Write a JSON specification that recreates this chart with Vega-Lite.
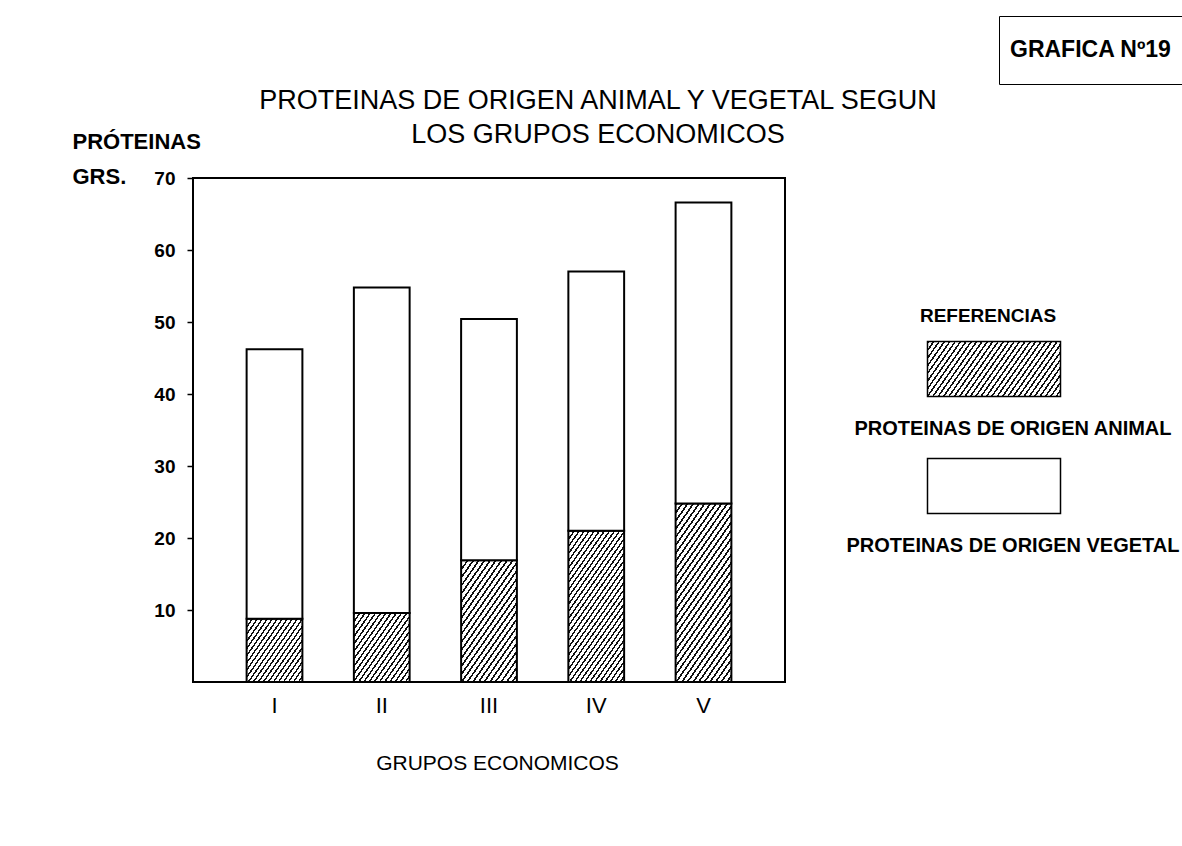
{
"$schema": "https://vega.github.io/schema/vega-lite/v6.json",
"width": 592, "height": 504,
"padding": {"left": 72, "top": 15, "right": 4, "bottom": 10},
"background": "white",
"config": {"font": "Liberation Sans", "view": {"stroke": "black", "strokeWidth": 2}},
"title": {"text": ["PROTEINAS DE ORIGEN ANIMAL Y VEGETAL SEGUN", "LOS GRUPOS ECONOMICOS"], "fontSize": 27, "fontWeight": "normal", "lineHeight": 34, "anchor": "middle", "dx": 109, "dy": 143, "color": "black", "offset": 10},
"data": {"values": [
{"grupo": "I", "tipo": "PROTEINAS DE ORIGEN ANIMAL", "valor": 8.8},
{"grupo": "I", "tipo": "PROTEINAS DE ORIGEN VEGETAL", "valor": 37.4},
{"grupo": "II", "tipo": "PROTEINAS DE ORIGEN ANIMAL", "valor": 9.6},
{"grupo": "II", "tipo": "PROTEINAS DE ORIGEN VEGETAL", "valor": 45.2},
{"grupo": "III", "tipo": "PROTEINAS DE ORIGEN ANIMAL", "valor": 16.9},
{"grupo": "III", "tipo": "PROTEINAS DE ORIGEN VEGETAL", "valor": 33.5},
{"grupo": "IV", "tipo": "PROTEINAS DE ORIGEN ANIMAL", "valor": 21.0},
{"grupo": "IV", "tipo": "PROTEINAS DE ORIGEN VEGETAL", "valor": 36.0},
{"grupo": "V", "tipo": "PROTEINAS DE ORIGEN ANIMAL", "valor": 24.8},
{"grupo": "V", "tipo": "PROTEINAS DE ORIGEN VEGETAL", "valor": 41.8}
]},
"mark": {"type": "bar", "stroke": "black", "strokeWidth": 2},
"encoding": {
"x": {"field": "grupo", "type": "ordinal", "sort": ["I", "II", "III", "IV", "V"], "scale": {"paddingInner": 0.48, "paddingOuter": 0.5},
 "axis": {"domain": false, "ticks": false, "grid": false, "labelAngle": 0, "labelFontSize": 22, "labelFontWeight": "normal", "labelPadding": 13, "labelColor": "black", "title": "GRUPOS ECONOMICOS", "titleFontSize": 21, "titleFontWeight": "normal", "titleX": 304, "titleY": 87, "titleAlign": "center", "titleBaseline": "alphabetic", "titleColor": "black"}},
"y": {"field": "valor", "type": "quantitative", "stack": "zero", "scale": {"domain": [0, 70], "nice": false},
 "axis": {"values": [10, 20, 30, 40, 50, 60, 70], "domain": false, "grid": false, "tickSize": 6, "tickWidth": 1.5, "tickColor": "black", "labelFontSize": 19, "labelFontWeight": "bold", "labelPadding": 12, "labelColor": "black", "title": ["PRÓTEINAS", "GRS."], "titleAngle": 0, "titleAlign": "left", "titleBaseline": "alphabetic", "titleX": -121, "titleY": -30, "titleLineHeight": 35, "titleFontSize": 22, "titleFontWeight": "bold", "titleColor": "black"}},
"order": {"field": "tipo", "type": "nominal", "sort": "ascending"},
"opacity": {"datum": "GRAFICA Nº19", "type": "ordinal", "scale": {"range": [1, 1]},
 "legend": {"orient": "none", "legendX": 806, "legendY": -162, "title": null, "symbolType": "M0,-1V1", "symbolSize": 2116, "symbolStrokeWidth": 0, "labelFontSize": 23, "labelFontWeight": "bold", "labelColor": "black", "labelOffset": -46, "labelLimit": 400, "padding": 11, "strokeColor": "black"}},
"strokeDash": {"field": "tipo", "type": "nominal", "scale": {"domain": ["PROTEINAS DE ORIGEN ANIMAL", "PROTEINAS DE ORIGEN VEGETAL"], "range": [[1, 0], [1, 0]]},
 "legend": {"orient": "none", "legendX": 727, "legendY": 129, "title": "REFERENCIAS", "titleFontSize": 19, "titleFontWeight": "bold", "titleColor": "black", "titleAnchor": "middle", "titlePadding": 12,
  "symbolType": "M-2.2167,-0.9167H2.2167V0.9167H-2.2167Z", "symbolSize": 3600, "symbolStrokeColor": "black", "symbolStrokeWidth": 1.5, "symbolOpacity": 1,
  "labelFontSize": 20, "labelFontWeight": "bold", "labelColor": "black", "labelAlign": "center", "labelOffset": -12, "labelLimit": 500, "labelBaseline": "middle",
  "rowPadding": 16, "padding": 0,
  "encoding": {"labels": {"dy": {"value": 60}}, "title": {"dx": {"value": -83}},
   "symbols": {"stroke": {"value": "black"}, "strokeWidth": {"value": 1.5}, "fill": {"condition": {"test": "datum.value==='PROTEINAS DE ORIGEN ANIMAL'", "value": {"gradient": "linear", "x1": 0, "y1": 0, "x2": 1.19, "y2": 0.3453, "stops": [
{"offset":0,"color":"#111"},{"offset":0.011,"color":"#111"},{"offset":0.011,"color":"#fff"},{"offset":0.03125,"color":"#fff"},
{"offset":0.03125,"color":"#111"},{"offset":0.04225,"color":"#111"},{"offset":0.04225,"color":"#fff"},{"offset":0.0625,"color":"#fff"},
{"offset":0.0625,"color":"#111"},{"offset":0.0735,"color":"#111"},{"offset":0.0735,"color":"#fff"},{"offset":0.09375,"color":"#fff"},
{"offset":0.09375,"color":"#111"},{"offset":0.10475,"color":"#111"},{"offset":0.10475,"color":"#fff"},{"offset":0.125,"color":"#fff"},
{"offset":0.125,"color":"#111"},{"offset":0.136,"color":"#111"},{"offset":0.136,"color":"#fff"},{"offset":0.15625,"color":"#fff"},
{"offset":0.15625,"color":"#111"},{"offset":0.16725,"color":"#111"},{"offset":0.16725,"color":"#fff"},{"offset":0.1875,"color":"#fff"},
{"offset":0.1875,"color":"#111"},{"offset":0.1985,"color":"#111"},{"offset":0.1985,"color":"#fff"},{"offset":0.21875,"color":"#fff"},
{"offset":0.21875,"color":"#111"},{"offset":0.22975,"color":"#111"},{"offset":0.22975,"color":"#fff"},{"offset":0.25,"color":"#fff"},
{"offset":0.25,"color":"#111"},{"offset":0.261,"color":"#111"},{"offset":0.261,"color":"#fff"},{"offset":0.28125,"color":"#fff"},
{"offset":0.28125,"color":"#111"},{"offset":0.29225,"color":"#111"},{"offset":0.29225,"color":"#fff"},{"offset":0.3125,"color":"#fff"},
{"offset":0.3125,"color":"#111"},{"offset":0.3235,"color":"#111"},{"offset":0.3235,"color":"#fff"},{"offset":0.34375,"color":"#fff"},
{"offset":0.34375,"color":"#111"},{"offset":0.35475,"color":"#111"},{"offset":0.35475,"color":"#fff"},{"offset":0.375,"color":"#fff"},
{"offset":0.375,"color":"#111"},{"offset":0.386,"color":"#111"},{"offset":0.386,"color":"#fff"},{"offset":0.40625,"color":"#fff"},
{"offset":0.40625,"color":"#111"},{"offset":0.41725,"color":"#111"},{"offset":0.41725,"color":"#fff"},{"offset":0.4375,"color":"#fff"},
{"offset":0.4375,"color":"#111"},{"offset":0.4485,"color":"#111"},{"offset":0.4485,"color":"#fff"},{"offset":0.46875,"color":"#fff"},
{"offset":0.46875,"color":"#111"},{"offset":0.47975,"color":"#111"},{"offset":0.47975,"color":"#fff"},{"offset":0.5,"color":"#fff"},
{"offset":0.5,"color":"#111"},{"offset":0.511,"color":"#111"},{"offset":0.511,"color":"#fff"},{"offset":0.53125,"color":"#fff"},
{"offset":0.53125,"color":"#111"},{"offset":0.54225,"color":"#111"},{"offset":0.54225,"color":"#fff"},{"offset":0.5625,"color":"#fff"},
{"offset":0.5625,"color":"#111"},{"offset":0.5735,"color":"#111"},{"offset":0.5735,"color":"#fff"},{"offset":0.59375,"color":"#fff"},
{"offset":0.59375,"color":"#111"},{"offset":0.60475,"color":"#111"},{"offset":0.60475,"color":"#fff"},{"offset":0.625,"color":"#fff"},
{"offset":0.625,"color":"#111"},{"offset":0.636,"color":"#111"},{"offset":0.636,"color":"#fff"},{"offset":0.65625,"color":"#fff"},
{"offset":0.65625,"color":"#111"},{"offset":0.66725,"color":"#111"},{"offset":0.66725,"color":"#fff"},{"offset":0.6875,"color":"#fff"},
{"offset":0.6875,"color":"#111"},{"offset":0.6985,"color":"#111"},{"offset":0.6985,"color":"#fff"},{"offset":0.71875,"color":"#fff"},
{"offset":0.71875,"color":"#111"},{"offset":0.72975,"color":"#111"},{"offset":0.72975,"color":"#fff"},{"offset":0.75,"color":"#fff"},
{"offset":0.75,"color":"#111"},{"offset":0.761,"color":"#111"},{"offset":0.761,"color":"#fff"},{"offset":0.78125,"color":"#fff"},
{"offset":0.78125,"color":"#111"},{"offset":0.79225,"color":"#111"},{"offset":0.79225,"color":"#fff"},{"offset":0.8125,"color":"#fff"},
{"offset":0.8125,"color":"#111"},{"offset":0.8235,"color":"#111"},{"offset":0.8235,"color":"#fff"},{"offset":0.84375,"color":"#fff"},
{"offset":0.84375,"color":"#111"},{"offset":0.85475,"color":"#111"},{"offset":0.85475,"color":"#fff"},{"offset":0.875,"color":"#fff"},
{"offset":0.875,"color":"#111"},{"offset":0.886,"color":"#111"},{"offset":0.886,"color":"#fff"},{"offset":0.90625,"color":"#fff"},
{"offset":0.90625,"color":"#111"},{"offset":0.91725,"color":"#111"},{"offset":0.91725,"color":"#fff"},{"offset":0.9375,"color":"#fff"},
{"offset":0.9375,"color":"#111"},{"offset":0.9485,"color":"#111"},{"offset":0.9485,"color":"#fff"},{"offset":0.96875,"color":"#fff"},
{"offset":0.96875,"color":"#111"},{"offset":0.97975,"color":"#111"},{"offset":0.97975,"color":"#fff"},{"offset":1,"color":"#fff"}
   ]}}, "value": "#ffffff"}}}}},
"fill": {"value": "#ffffff",
 "condition": [
  {"test": "datum.grupo==='I'&&datum.tipo==='PROTEINAS DE ORIGEN ANIMAL'", "value": {"gradient": "linear", "x1": 0, "y1": 0, "x2": 1.1016, "y2": 0.8742, "stops": [
{"offset":0,"color":"#111"},{"offset":0.0175,"color":"#111"},{"offset":0.0175,"color":"#fff"},{"offset":0.05,"color":"#fff"},
{"offset":0.05,"color":"#111"},{"offset":0.0675,"color":"#111"},{"offset":0.0675,"color":"#fff"},{"offset":0.1,"color":"#fff"},
{"offset":0.1,"color":"#111"},{"offset":0.1175,"color":"#111"},{"offset":0.1175,"color":"#fff"},{"offset":0.15,"color":"#fff"},
{"offset":0.15,"color":"#111"},{"offset":0.1675,"color":"#111"},{"offset":0.1675,"color":"#fff"},{"offset":0.2,"color":"#fff"},
{"offset":0.2,"color":"#111"},{"offset":0.2175,"color":"#111"},{"offset":0.2175,"color":"#fff"},{"offset":0.25,"color":"#fff"},
{"offset":0.25,"color":"#111"},{"offset":0.2675,"color":"#111"},{"offset":0.2675,"color":"#fff"},{"offset":0.3,"color":"#fff"},
{"offset":0.3,"color":"#111"},{"offset":0.3175,"color":"#111"},{"offset":0.3175,"color":"#fff"},{"offset":0.35,"color":"#fff"},
{"offset":0.35,"color":"#111"},{"offset":0.3675,"color":"#111"},{"offset":0.3675,"color":"#fff"},{"offset":0.4,"color":"#fff"},
{"offset":0.4,"color":"#111"},{"offset":0.4175,"color":"#111"},{"offset":0.4175,"color":"#fff"},{"offset":0.45,"color":"#fff"},
{"offset":0.45,"color":"#111"},{"offset":0.4675,"color":"#111"},{"offset":0.4675,"color":"#fff"},{"offset":0.5,"color":"#fff"},
{"offset":0.5,"color":"#111"},{"offset":0.5175,"color":"#111"},{"offset":0.5175,"color":"#fff"},{"offset":0.55,"color":"#fff"},
{"offset":0.55,"color":"#111"},{"offset":0.5675,"color":"#111"},{"offset":0.5675,"color":"#fff"},{"offset":0.6,"color":"#fff"},
{"offset":0.6,"color":"#111"},{"offset":0.6175,"color":"#111"},{"offset":0.6175,"color":"#fff"},{"offset":0.65,"color":"#fff"},
{"offset":0.65,"color":"#111"},{"offset":0.6675,"color":"#111"},{"offset":0.6675,"color":"#fff"},{"offset":0.7,"color":"#fff"},
{"offset":0.7,"color":"#111"},{"offset":0.7175,"color":"#111"},{"offset":0.7175,"color":"#fff"},{"offset":0.75,"color":"#fff"},
{"offset":0.75,"color":"#111"},{"offset":0.7675,"color":"#111"},{"offset":0.7675,"color":"#fff"},{"offset":0.8,"color":"#fff"},
{"offset":0.8,"color":"#111"},{"offset":0.8175,"color":"#111"},{"offset":0.8175,"color":"#fff"},{"offset":0.85,"color":"#fff"},
{"offset":0.85,"color":"#111"},{"offset":0.8675,"color":"#111"},{"offset":0.8675,"color":"#fff"},{"offset":0.9,"color":"#fff"},
{"offset":0.9,"color":"#111"},{"offset":0.9175,"color":"#111"},{"offset":0.9175,"color":"#fff"},{"offset":0.95,"color":"#fff"},
{"offset":0.95,"color":"#111"},{"offset":0.9675,"color":"#111"},{"offset":0.9675,"color":"#fff"},{"offset":1,"color":"#fff"}
  ]}},
  {"test": "datum.grupo==='II'&&datum.tipo==='PROTEINAS DE ORIGEN ANIMAL'", "value": {"gradient": "linear", "x1": 0, "y1": 0, "x2": 1.068, "y2": 0.9237, "stops": [
{"offset":0,"color":"#111"},{"offset":0.0175,"color":"#111"},{"offset":0.0175,"color":"#fff"},{"offset":0.05,"color":"#fff"},
{"offset":0.05,"color":"#111"},{"offset":0.0675,"color":"#111"},{"offset":0.0675,"color":"#fff"},{"offset":0.1,"color":"#fff"},
{"offset":0.1,"color":"#111"},{"offset":0.1175,"color":"#111"},{"offset":0.1175,"color":"#fff"},{"offset":0.15,"color":"#fff"},
{"offset":0.15,"color":"#111"},{"offset":0.1675,"color":"#111"},{"offset":0.1675,"color":"#fff"},{"offset":0.2,"color":"#fff"},
{"offset":0.2,"color":"#111"},{"offset":0.2175,"color":"#111"},{"offset":0.2175,"color":"#fff"},{"offset":0.25,"color":"#fff"},
{"offset":0.25,"color":"#111"},{"offset":0.2675,"color":"#111"},{"offset":0.2675,"color":"#fff"},{"offset":0.3,"color":"#fff"},
{"offset":0.3,"color":"#111"},{"offset":0.3175,"color":"#111"},{"offset":0.3175,"color":"#fff"},{"offset":0.35,"color":"#fff"},
{"offset":0.35,"color":"#111"},{"offset":0.3675,"color":"#111"},{"offset":0.3675,"color":"#fff"},{"offset":0.4,"color":"#fff"},
{"offset":0.4,"color":"#111"},{"offset":0.4175,"color":"#111"},{"offset":0.4175,"color":"#fff"},{"offset":0.45,"color":"#fff"},
{"offset":0.45,"color":"#111"},{"offset":0.4675,"color":"#111"},{"offset":0.4675,"color":"#fff"},{"offset":0.5,"color":"#fff"},
{"offset":0.5,"color":"#111"},{"offset":0.5175,"color":"#111"},{"offset":0.5175,"color":"#fff"},{"offset":0.55,"color":"#fff"},
{"offset":0.55,"color":"#111"},{"offset":0.5675,"color":"#111"},{"offset":0.5675,"color":"#fff"},{"offset":0.6,"color":"#fff"},
{"offset":0.6,"color":"#111"},{"offset":0.6175,"color":"#111"},{"offset":0.6175,"color":"#fff"},{"offset":0.65,"color":"#fff"},
{"offset":0.65,"color":"#111"},{"offset":0.6675,"color":"#111"},{"offset":0.6675,"color":"#fff"},{"offset":0.7,"color":"#fff"},
{"offset":0.7,"color":"#111"},{"offset":0.7175,"color":"#111"},{"offset":0.7175,"color":"#fff"},{"offset":0.75,"color":"#fff"},
{"offset":0.75,"color":"#111"},{"offset":0.7675,"color":"#111"},{"offset":0.7675,"color":"#fff"},{"offset":0.8,"color":"#fff"},
{"offset":0.8,"color":"#111"},{"offset":0.8175,"color":"#111"},{"offset":0.8175,"color":"#fff"},{"offset":0.85,"color":"#fff"},
{"offset":0.85,"color":"#111"},{"offset":0.8675,"color":"#111"},{"offset":0.8675,"color":"#fff"},{"offset":0.9,"color":"#fff"},
{"offset":0.9,"color":"#111"},{"offset":0.9175,"color":"#111"},{"offset":0.9175,"color":"#fff"},{"offset":0.95,"color":"#fff"},
{"offset":0.95,"color":"#111"},{"offset":0.9675,"color":"#111"},{"offset":0.9675,"color":"#fff"},{"offset":1,"color":"#fff"}
  ]}},
  {"test": "datum.grupo==='III'&&datum.tipo==='PROTEINAS DE ORIGEN ANIMAL'", "value": {"gradient": "linear", "x1": 0, "y1": 0, "x2": 0.7605, "y2": 1.1583, "stops": [
{"offset":0,"color":"#111"},{"offset":0.014,"color":"#111"},{"offset":0.014,"color":"#fff"},{"offset":0.04,"color":"#fff"},
{"offset":0.04,"color":"#111"},{"offset":0.054,"color":"#111"},{"offset":0.054,"color":"#fff"},{"offset":0.08,"color":"#fff"},
{"offset":0.08,"color":"#111"},{"offset":0.094,"color":"#111"},{"offset":0.094,"color":"#fff"},{"offset":0.12,"color":"#fff"},
{"offset":0.12,"color":"#111"},{"offset":0.134,"color":"#111"},{"offset":0.134,"color":"#fff"},{"offset":0.16,"color":"#fff"},
{"offset":0.16,"color":"#111"},{"offset":0.174,"color":"#111"},{"offset":0.174,"color":"#fff"},{"offset":0.2,"color":"#fff"},
{"offset":0.2,"color":"#111"},{"offset":0.214,"color":"#111"},{"offset":0.214,"color":"#fff"},{"offset":0.24,"color":"#fff"},
{"offset":0.24,"color":"#111"},{"offset":0.254,"color":"#111"},{"offset":0.254,"color":"#fff"},{"offset":0.28,"color":"#fff"},
{"offset":0.28,"color":"#111"},{"offset":0.294,"color":"#111"},{"offset":0.294,"color":"#fff"},{"offset":0.32,"color":"#fff"},
{"offset":0.32,"color":"#111"},{"offset":0.334,"color":"#111"},{"offset":0.334,"color":"#fff"},{"offset":0.36,"color":"#fff"},
{"offset":0.36,"color":"#111"},{"offset":0.374,"color":"#111"},{"offset":0.374,"color":"#fff"},{"offset":0.4,"color":"#fff"},
{"offset":0.4,"color":"#111"},{"offset":0.414,"color":"#111"},{"offset":0.414,"color":"#fff"},{"offset":0.44,"color":"#fff"},
{"offset":0.44,"color":"#111"},{"offset":0.454,"color":"#111"},{"offset":0.454,"color":"#fff"},{"offset":0.48,"color":"#fff"},
{"offset":0.48,"color":"#111"},{"offset":0.494,"color":"#111"},{"offset":0.494,"color":"#fff"},{"offset":0.52,"color":"#fff"},
{"offset":0.52,"color":"#111"},{"offset":0.534,"color":"#111"},{"offset":0.534,"color":"#fff"},{"offset":0.56,"color":"#fff"},
{"offset":0.56,"color":"#111"},{"offset":0.574,"color":"#111"},{"offset":0.574,"color":"#fff"},{"offset":0.6,"color":"#fff"},
{"offset":0.6,"color":"#111"},{"offset":0.614,"color":"#111"},{"offset":0.614,"color":"#fff"},{"offset":0.64,"color":"#fff"},
{"offset":0.64,"color":"#111"},{"offset":0.654,"color":"#111"},{"offset":0.654,"color":"#fff"},{"offset":0.68,"color":"#fff"},
{"offset":0.68,"color":"#111"},{"offset":0.694,"color":"#111"},{"offset":0.694,"color":"#fff"},{"offset":0.72,"color":"#fff"},
{"offset":0.72,"color":"#111"},{"offset":0.734,"color":"#111"},{"offset":0.734,"color":"#fff"},{"offset":0.76,"color":"#fff"},
{"offset":0.76,"color":"#111"},{"offset":0.774,"color":"#111"},{"offset":0.774,"color":"#fff"},{"offset":0.8,"color":"#fff"},
{"offset":0.8,"color":"#111"},{"offset":0.814,"color":"#111"},{"offset":0.814,"color":"#fff"},{"offset":0.84,"color":"#fff"},
{"offset":0.84,"color":"#111"},{"offset":0.854,"color":"#111"},{"offset":0.854,"color":"#fff"},{"offset":0.88,"color":"#fff"},
{"offset":0.88,"color":"#111"},{"offset":0.894,"color":"#111"},{"offset":0.894,"color":"#fff"},{"offset":0.92,"color":"#fff"},
{"offset":0.92,"color":"#111"},{"offset":0.934,"color":"#111"},{"offset":0.934,"color":"#fff"},{"offset":0.96,"color":"#fff"},
{"offset":0.96,"color":"#111"},{"offset":0.974,"color":"#111"},{"offset":0.974,"color":"#fff"},{"offset":1,"color":"#fff"}
  ]}},
  {"test": "datum.grupo==='IV'&&datum.tipo==='PROTEINAS DE ORIGEN ANIMAL'", "value": {"gradient": "linear", "x1": 0, "y1": 0, "x2": 0.6316, "y2": 1.1953, "stops": [
{"offset":0,"color":"#111"},{"offset":0.011,"color":"#111"},{"offset":0.011,"color":"#fff"},{"offset":0.03125,"color":"#fff"},
{"offset":0.03125,"color":"#111"},{"offset":0.04225,"color":"#111"},{"offset":0.04225,"color":"#fff"},{"offset":0.0625,"color":"#fff"},
{"offset":0.0625,"color":"#111"},{"offset":0.0735,"color":"#111"},{"offset":0.0735,"color":"#fff"},{"offset":0.09375,"color":"#fff"},
{"offset":0.09375,"color":"#111"},{"offset":0.10475,"color":"#111"},{"offset":0.10475,"color":"#fff"},{"offset":0.125,"color":"#fff"},
{"offset":0.125,"color":"#111"},{"offset":0.136,"color":"#111"},{"offset":0.136,"color":"#fff"},{"offset":0.15625,"color":"#fff"},
{"offset":0.15625,"color":"#111"},{"offset":0.16725,"color":"#111"},{"offset":0.16725,"color":"#fff"},{"offset":0.1875,"color":"#fff"},
{"offset":0.1875,"color":"#111"},{"offset":0.1985,"color":"#111"},{"offset":0.1985,"color":"#fff"},{"offset":0.21875,"color":"#fff"},
{"offset":0.21875,"color":"#111"},{"offset":0.22975,"color":"#111"},{"offset":0.22975,"color":"#fff"},{"offset":0.25,"color":"#fff"},
{"offset":0.25,"color":"#111"},{"offset":0.261,"color":"#111"},{"offset":0.261,"color":"#fff"},{"offset":0.28125,"color":"#fff"},
{"offset":0.28125,"color":"#111"},{"offset":0.29225,"color":"#111"},{"offset":0.29225,"color":"#fff"},{"offset":0.3125,"color":"#fff"},
{"offset":0.3125,"color":"#111"},{"offset":0.3235,"color":"#111"},{"offset":0.3235,"color":"#fff"},{"offset":0.34375,"color":"#fff"},
{"offset":0.34375,"color":"#111"},{"offset":0.35475,"color":"#111"},{"offset":0.35475,"color":"#fff"},{"offset":0.375,"color":"#fff"},
{"offset":0.375,"color":"#111"},{"offset":0.386,"color":"#111"},{"offset":0.386,"color":"#fff"},{"offset":0.40625,"color":"#fff"},
{"offset":0.40625,"color":"#111"},{"offset":0.41725,"color":"#111"},{"offset":0.41725,"color":"#fff"},{"offset":0.4375,"color":"#fff"},
{"offset":0.4375,"color":"#111"},{"offset":0.4485,"color":"#111"},{"offset":0.4485,"color":"#fff"},{"offset":0.46875,"color":"#fff"},
{"offset":0.46875,"color":"#111"},{"offset":0.47975,"color":"#111"},{"offset":0.47975,"color":"#fff"},{"offset":0.5,"color":"#fff"},
{"offset":0.5,"color":"#111"},{"offset":0.511,"color":"#111"},{"offset":0.511,"color":"#fff"},{"offset":0.53125,"color":"#fff"},
{"offset":0.53125,"color":"#111"},{"offset":0.54225,"color":"#111"},{"offset":0.54225,"color":"#fff"},{"offset":0.5625,"color":"#fff"},
{"offset":0.5625,"color":"#111"},{"offset":0.5735,"color":"#111"},{"offset":0.5735,"color":"#fff"},{"offset":0.59375,"color":"#fff"},
{"offset":0.59375,"color":"#111"},{"offset":0.60475,"color":"#111"},{"offset":0.60475,"color":"#fff"},{"offset":0.625,"color":"#fff"},
{"offset":0.625,"color":"#111"},{"offset":0.636,"color":"#111"},{"offset":0.636,"color":"#fff"},{"offset":0.65625,"color":"#fff"},
{"offset":0.65625,"color":"#111"},{"offset":0.66725,"color":"#111"},{"offset":0.66725,"color":"#fff"},{"offset":0.6875,"color":"#fff"},
{"offset":0.6875,"color":"#111"},{"offset":0.6985,"color":"#111"},{"offset":0.6985,"color":"#fff"},{"offset":0.71875,"color":"#fff"},
{"offset":0.71875,"color":"#111"},{"offset":0.72975,"color":"#111"},{"offset":0.72975,"color":"#fff"},{"offset":0.75,"color":"#fff"},
{"offset":0.75,"color":"#111"},{"offset":0.761,"color":"#111"},{"offset":0.761,"color":"#fff"},{"offset":0.78125,"color":"#fff"},
{"offset":0.78125,"color":"#111"},{"offset":0.79225,"color":"#111"},{"offset":0.79225,"color":"#fff"},{"offset":0.8125,"color":"#fff"},
{"offset":0.8125,"color":"#111"},{"offset":0.8235,"color":"#111"},{"offset":0.8235,"color":"#fff"},{"offset":0.84375,"color":"#fff"},
{"offset":0.84375,"color":"#111"},{"offset":0.85475,"color":"#111"},{"offset":0.85475,"color":"#fff"},{"offset":0.875,"color":"#fff"},
{"offset":0.875,"color":"#111"},{"offset":0.886,"color":"#111"},{"offset":0.886,"color":"#fff"},{"offset":0.90625,"color":"#fff"},
{"offset":0.90625,"color":"#111"},{"offset":0.91725,"color":"#111"},{"offset":0.91725,"color":"#fff"},{"offset":0.9375,"color":"#fff"},
{"offset":0.9375,"color":"#111"},{"offset":0.9485,"color":"#111"},{"offset":0.9485,"color":"#fff"},{"offset":0.96875,"color":"#fff"},
{"offset":0.96875,"color":"#111"},{"offset":0.97975,"color":"#111"},{"offset":0.97975,"color":"#fff"},{"offset":1,"color":"#fff"}
  ]}},
  {"test": "datum.grupo==='V'&&datum.tipo==='PROTEINAS DE ORIGEN ANIMAL'", "value": {"gradient": "linear", "x1": 0, "y1": 0, "x2": 0.5402, "y2": 1.2075, "stops": [
{"offset":0,"color":"#111"},{"offset":0.011,"color":"#111"},{"offset":0.011,"color":"#fff"},{"offset":0.03125,"color":"#fff"},
{"offset":0.03125,"color":"#111"},{"offset":0.04225,"color":"#111"},{"offset":0.04225,"color":"#fff"},{"offset":0.0625,"color":"#fff"},
{"offset":0.0625,"color":"#111"},{"offset":0.0735,"color":"#111"},{"offset":0.0735,"color":"#fff"},{"offset":0.09375,"color":"#fff"},
{"offset":0.09375,"color":"#111"},{"offset":0.10475,"color":"#111"},{"offset":0.10475,"color":"#fff"},{"offset":0.125,"color":"#fff"},
{"offset":0.125,"color":"#111"},{"offset":0.136,"color":"#111"},{"offset":0.136,"color":"#fff"},{"offset":0.15625,"color":"#fff"},
{"offset":0.15625,"color":"#111"},{"offset":0.16725,"color":"#111"},{"offset":0.16725,"color":"#fff"},{"offset":0.1875,"color":"#fff"},
{"offset":0.1875,"color":"#111"},{"offset":0.1985,"color":"#111"},{"offset":0.1985,"color":"#fff"},{"offset":0.21875,"color":"#fff"},
{"offset":0.21875,"color":"#111"},{"offset":0.22975,"color":"#111"},{"offset":0.22975,"color":"#fff"},{"offset":0.25,"color":"#fff"},
{"offset":0.25,"color":"#111"},{"offset":0.261,"color":"#111"},{"offset":0.261,"color":"#fff"},{"offset":0.28125,"color":"#fff"},
{"offset":0.28125,"color":"#111"},{"offset":0.29225,"color":"#111"},{"offset":0.29225,"color":"#fff"},{"offset":0.3125,"color":"#fff"},
{"offset":0.3125,"color":"#111"},{"offset":0.3235,"color":"#111"},{"offset":0.3235,"color":"#fff"},{"offset":0.34375,"color":"#fff"},
{"offset":0.34375,"color":"#111"},{"offset":0.35475,"color":"#111"},{"offset":0.35475,"color":"#fff"},{"offset":0.375,"color":"#fff"},
{"offset":0.375,"color":"#111"},{"offset":0.386,"color":"#111"},{"offset":0.386,"color":"#fff"},{"offset":0.40625,"color":"#fff"},
{"offset":0.40625,"color":"#111"},{"offset":0.41725,"color":"#111"},{"offset":0.41725,"color":"#fff"},{"offset":0.4375,"color":"#fff"},
{"offset":0.4375,"color":"#111"},{"offset":0.4485,"color":"#111"},{"offset":0.4485,"color":"#fff"},{"offset":0.46875,"color":"#fff"},
{"offset":0.46875,"color":"#111"},{"offset":0.47975,"color":"#111"},{"offset":0.47975,"color":"#fff"},{"offset":0.5,"color":"#fff"},
{"offset":0.5,"color":"#111"},{"offset":0.511,"color":"#111"},{"offset":0.511,"color":"#fff"},{"offset":0.53125,"color":"#fff"},
{"offset":0.53125,"color":"#111"},{"offset":0.54225,"color":"#111"},{"offset":0.54225,"color":"#fff"},{"offset":0.5625,"color":"#fff"},
{"offset":0.5625,"color":"#111"},{"offset":0.5735,"color":"#111"},{"offset":0.5735,"color":"#fff"},{"offset":0.59375,"color":"#fff"},
{"offset":0.59375,"color":"#111"},{"offset":0.60475,"color":"#111"},{"offset":0.60475,"color":"#fff"},{"offset":0.625,"color":"#fff"},
{"offset":0.625,"color":"#111"},{"offset":0.636,"color":"#111"},{"offset":0.636,"color":"#fff"},{"offset":0.65625,"color":"#fff"},
{"offset":0.65625,"color":"#111"},{"offset":0.66725,"color":"#111"},{"offset":0.66725,"color":"#fff"},{"offset":0.6875,"color":"#fff"},
{"offset":0.6875,"color":"#111"},{"offset":0.6985,"color":"#111"},{"offset":0.6985,"color":"#fff"},{"offset":0.71875,"color":"#fff"},
{"offset":0.71875,"color":"#111"},{"offset":0.72975,"color":"#111"},{"offset":0.72975,"color":"#fff"},{"offset":0.75,"color":"#fff"},
{"offset":0.75,"color":"#111"},{"offset":0.761,"color":"#111"},{"offset":0.761,"color":"#fff"},{"offset":0.78125,"color":"#fff"},
{"offset":0.78125,"color":"#111"},{"offset":0.79225,"color":"#111"},{"offset":0.79225,"color":"#fff"},{"offset":0.8125,"color":"#fff"},
{"offset":0.8125,"color":"#111"},{"offset":0.8235,"color":"#111"},{"offset":0.8235,"color":"#fff"},{"offset":0.84375,"color":"#fff"},
{"offset":0.84375,"color":"#111"},{"offset":0.85475,"color":"#111"},{"offset":0.85475,"color":"#fff"},{"offset":0.875,"color":"#fff"},
{"offset":0.875,"color":"#111"},{"offset":0.886,"color":"#111"},{"offset":0.886,"color":"#fff"},{"offset":0.90625,"color":"#fff"},
{"offset":0.90625,"color":"#111"},{"offset":0.91725,"color":"#111"},{"offset":0.91725,"color":"#fff"},{"offset":0.9375,"color":"#fff"},
{"offset":0.9375,"color":"#111"},{"offset":0.9485,"color":"#111"},{"offset":0.9485,"color":"#fff"},{"offset":0.96875,"color":"#fff"},
{"offset":0.96875,"color":"#111"},{"offset":0.97975,"color":"#111"},{"offset":0.97975,"color":"#fff"},{"offset":1,"color":"#fff"}
  ]}}
 ]}
}
}
